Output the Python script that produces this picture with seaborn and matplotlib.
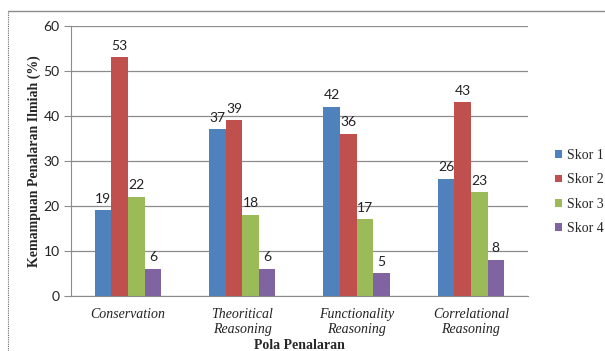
import matplotlib
matplotlib.use("Agg")
import matplotlib.pyplot as plt
from matplotlib.lines import Line2D
import seaborn as sns
import pandas as pd

categories = ["Conservation", "Theoritical\nReasoning", "Functionality\nReasoning", "Correlational\nReasoning"]
series_names = ["Skor 1", "Skor 2", "Skor 3", "Skor 4"]
skor1 = [19, 37, 42, 26]
skor2 = [53, 39, 36, 43]
skor3 = [22, 18, 17, 23]
skor4 = [6, 6, 5, 8]
colors = ["#4F81BD", "#C0504D", "#9BBB59", "#8064A2"]

rows = []
for name, vals in zip(series_names, [skor1, skor2, skor3, skor4]):
    for cat, v in zip(categories, vals):
        rows.append({"Pola": cat, "Skor": name, "Nilai": v})
df = pd.DataFrame(rows)

sns.set_style("white")
plt.rcParams["font.family"] = ["Liberation Serif", "DejaVu Serif"]
num_font = ["Lato", "DejaVu Sans"]

fig = plt.figure(figsize=(6.05, 3.51), dpi=100)
ax = fig.add_axes([0.117, 0.157, 0.756, 0.769])

sns.barplot(data=df, x="Pola", y="Nilai", hue="Skor", order=categories,
            hue_order=series_names, palette=colors, width=0.58,
            saturation=1, linewidth=0, ax=ax, legend=True, errorbar=None)

for cont in ax.containers:
    ax.bar_label(cont, fmt="%d", padding=4, fontsize=10,
                 family=num_font, color="#222222")

ax.set_ylim(0, 60)
ax.set_yticks(range(0, 61, 10))
ax.yaxis.grid(True, color="#8c8c8c", linewidth=0.9)
ax.set_axisbelow(True)
for s in ["top", "right"]:
    ax.spines[s].set_visible(False)
ax.spines["left"].set_color("#8c8c8c")
ax.spines["bottom"].set_color("#8c8c8c")
ax.tick_params(axis="y", which="both", left=True, length=5, color="#8c8c8c",
               labelsize=10, pad=3, labelcolor="#222222")
ax.tick_params(axis="x", bottom=False, labelsize=10, pad=5, labelcolor="#222222")
for lbl in ax.get_yticklabels():
    lbl.set_family(num_font)
for lbl in ax.get_xticklabels():
    lbl.set_fontstyle("italic")
    lbl.set_linespacing(1.2)

ax.set_xlabel("Pola Penalaran", fontsize=10, fontweight="bold", labelpad=2.5)
ax.set_ylabel("Kemampuan Penalaran Ilmiah (%)", fontsize=10, fontweight="bold", labelpad=2)

leg = ax.legend(loc="center left", bbox_to_anchor=(1.044, 0.385), frameon=False,
                fontsize=10, borderpad=0, handlelength=0.5, handleheight=0.5,
                handletextpad=0.35, labelspacing=0.8)

# chart frame: solid top edge, dotted left edge
fig.add_artist(Line2D([0.013, 1.0], [0.969, 0.969], color="#8c8c8c", linewidth=1.0))
fig.add_artist(Line2D([0.013, 0.013], [0.0, 0.969], color="#666666", linewidth=0.8,
                      linestyle=(0, (1, 1))))

fig.savefig("out.png", dpi=100)
